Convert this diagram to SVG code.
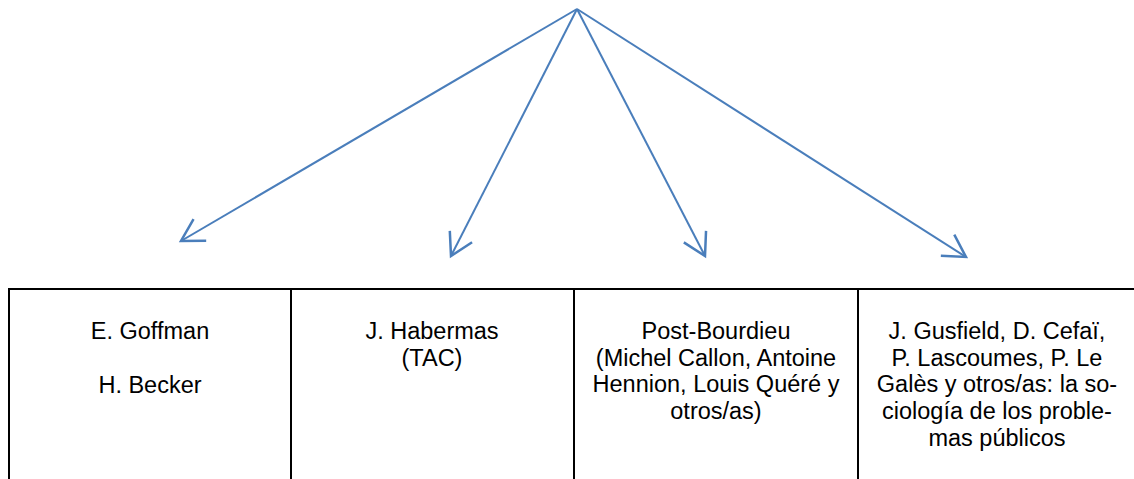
<svg xmlns="http://www.w3.org/2000/svg" width="1134" height="479" viewBox="0 0 1134 479">
<defs>
<style>
.conn{stroke:#4a7ebb;stroke-width:2;fill:none;marker-end:url(#arr)}
.cell{fill:#ffffff;stroke:#000000;stroke-width:2}
.t{font-family:"Liberation Sans",Arial,sans-serif;font-size:23.5px;fill:#000000;text-anchor:middle}
</style>
<marker id="arr" markerUnits="userSpaceOnUse" markerWidth="30" markerHeight="30" viewBox="-20 -12 22 24" refX="0" refY="0" orient="auto">
<path d="M -17.5,-10 L 0,0 L -17.5,10" fill="none" stroke="#4a7ebb" stroke-width="2"/>
</marker>
</defs>
<rect width="1134" height="479" fill="#ffffff"/>
<g id="connectors">
<line class="conn" x1="577" y1="9" x2="181" y2="241"/>
<line class="conn" x1="577" y1="9" x2="451" y2="256"/>
<line class="conn" x1="577" y1="9" x2="705" y2="256"/>
<line class="conn" x1="577" y1="9" x2="966" y2="257"/>
</g>
<g id="node1">
<rect class="cell" x="9" y="289" width="282" height="200"/>
<text class="t" x="150" y="339">E. Goffman</text>
<text class="t" x="150" y="393">H. Becker</text>
</g>
<g id="node2">
<rect class="cell" x="291" y="289" width="283" height="200"/>
<text class="t" x="432" y="339">J. Habermas</text>
<text class="t" x="432" y="366">(TAC)</text>
</g>
<g id="node3">
<rect class="cell" x="574" y="289" width="284" height="200"/>
<text class="t" x="716" y="339">Post-Bourdieu</text>
<text class="t" x="716" y="366">(Michel Callon, Antoine</text>
<text class="t" x="716" y="392">Hennion, Louis Quéré y</text>
<text class="t" x="716" y="419">otros/as)</text>
</g>
<g id="node4">
<rect class="cell" x="858" y="289" width="280" height="200"/>
<text class="t" x="997" y="339">J. Gusfield, D. Cefaï,</text>
<text class="t" x="997" y="366">P. Lascoumes, P. Le</text>
<text class="t" x="997" y="392">Galès y otros/as: la so-</text>
<text class="t" x="997" y="419">ciología de los proble-</text>
<text class="t" x="997" y="446">mas públicos</text>
</g>
</svg>
